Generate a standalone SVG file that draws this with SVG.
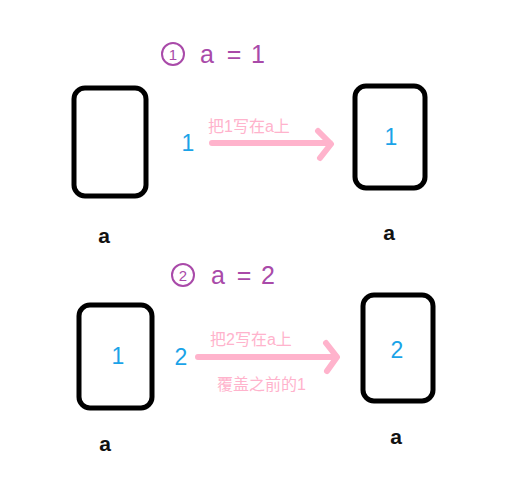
<svg xmlns="http://www.w3.org/2000/svg" width="529" height="487" viewBox="0 0 529 487">
<style>
.box{fill:none;stroke:#000;stroke-width:5}
.lbl{font-family:"Liberation Sans",Arial,sans-serif;font-size:21px;font-weight:bold;fill:#111;text-anchor:middle}
.val{font-family:"Liberation Sans",Arial,sans-serif;font-size:23px;fill:#1aa3e8;text-anchor:middle}
.title{font-family:"Liberation Sans","DejaVu Sans",sans-serif;font-size:25px;fill:#a94aa9;text-anchor:middle}
.cn{font-family:"Liberation Sans",sans-serif;font-size:15px;fill:#a94aa9;text-anchor:middle}
.ring{fill:none;stroke:#a94aa9;stroke-width:2}
.note{font-family:"Liberation Sans","Noto Sans CJK SC",sans-serif;font-size:16px;fill:#ffb3cc}
.arr{fill:none;stroke:#ffb3cc;stroke-width:6;stroke-linecap:round;stroke-linejoin:round}
</style>
<rect width="529" height="487" fill="#fff"/>
<g id="title1"><circle class="ring" cx="173" cy="54" r="11"/><text class="cn" x="173" y="59.5">1</text><text class="title" x="207" y="63">a</text><text class="title" x="234" y="63">=</text><text class="title" x="258" y="63">1</text></g>
<g id="title2"><circle class="ring" cx="183" cy="275" r="11"/><text class="cn" x="183" y="280.5">2</text><text class="title" x="218" y="284">a</text><text class="title" x="244" y="284">=</text><text class="title" x="268" y="284">2</text></g>
<g id="box1"><rect class="box" x="74" y="88" width="72" height="108" rx="11"/><text class="lbl" x="104" y="243">a</text></g>
<g id="box2"><rect class="box" x="355" y="86" width="70" height="102" rx="11"/><text class="val" x="391" y="145">1</text><text class="lbl" x="389" y="240">a</text></g>
<g id="box3"><rect class="box" x="79" y="305" width="73" height="103" rx="11"/><text class="val" x="118" y="364">1</text><text class="lbl" x="105" y="451">a</text></g>
<g id="box4"><rect class="box" x="363" y="295" width="70" height="106" rx="11"/><text class="val" x="397" y="358">2</text><text class="lbl" x="396" y="444">a</text></g>
<g id="connectors">
<text class="val" x="188" y="151">1</text>
<path class="arr" d="M212 143 H330 M318 131 L331 144 L320 158"/>
<text class="note" x="208" y="132">把1写在a上</text>
<text class="val" x="181" y="365">2</text>
<path class="arr" d="M198 357 H336 M326 343 L337 357 L327 371"/>
<text class="note" x="210" y="345">把2写在a上</text>
<text class="note" x="217" y="390">覆盖之前的1</text>
</g>
</svg>
